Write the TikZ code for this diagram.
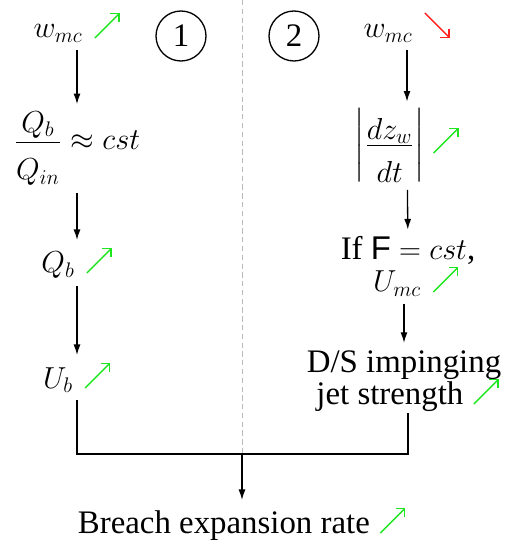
\documentclass[tikz,border=0pt]{standalone}
\usepackage{amsmath}
\usepackage{fontspec}
\setmainfont{Liberation Serif}
\newfontfamily\sansF{Liberation Sans}
\usetikzlibrary{arrows.meta}
\definecolor{Cup}{HTML}{1EE61E}
\definecolor{Cdn}{HTML}{FF2020}
% numerator set a little lower, denominator a little deeper
\newcommand{\lownum}[1]{\raisebox{-0.2em}[\height][0pt]{$#1$}}
\newcommand{\deepden}[1]{\rule{0pt}{1.0em}#1}
\newcommand{\incr}{\tikz[baseline=0pt]\draw[Cup, line width=0.8pt, -{Straight Barb[length=3.5pt,width=7pt]}] (0,0) -- (0.76em,0.76em);}
\newcommand{\decr}{\tikz[baseline=0pt]\draw[Cdn, line width=0.8pt, -{Straight Barb[length=3.5pt,width=7pt]}] (0,0.76em) -- (0.76em,0);}

\begin{document}
\begin{tikzpicture}[x=0.02cm, y=-0.02cm,
		font=\fontsize{18.7}{19}\selectfont,
		txt/.style={anchor=base, inner sep=1pt},
		link/.style={line width=0.75pt, -{Latex[length=6pt,width=4pt]}, shorten <=3pt, shorten >=3pt},
		num/.style={circle, draw, line width=0.75pt, minimum size=1cm, inner sep=0pt}]
	
	\useasboundingbox (0,0) rectangle (514,543);
	
	%% junction of the two branches
	\coordinate (jn) at (242,454);
	
	%% separator between the two cases
	\draw[gray!55, line width=0.5pt, dash pattern=on 3pt off 2pt] (242,0) -- (jn);
	
	%% case numbers
	\node[num] (n1) at (181,36) {1};
	\node[num] (n2) at (294,36) {2};
	
	%% ── case 1 ──────────────────────────────────────────
	\node[txt] (w1) at (77,38)  {$w_{mc}$\hspace{0.35em}\incr};
	\node[txt] (r1) at (77,150) {$\dfrac{\lownum{Q_b}}{\deepden{Q_{in}}}\approx cst$};
	\node[txt] (qb) at (77,273) {$Q_b$\hspace{0.35em}\incr};
	\node[txt] (ub) at (77,388) {$U_b$\hspace{0.35em}\incr};
	
	%% ── case 2 ──────────────────────────────────────────
	\node[txt] (w2) at (407,38)  {$w_{mc}$\hspace{0.35em}\decr};
	\node[txt] (dz) at (407,153) {$\left|\dfrac{\lownum{dz_w}}{\deepden{dt}}\right|$\hspace{0.25em}\incr};
	\node[txt] (if) at (408,260) {If {\sansF F} $= cst$,};
	\node[txt] (um) at (416,292) {$U_{mc}$\hspace{0.35em}\incr};
	\node[txt] (ds) at (404,372) {D/S impinging};
	\node[txt] (jt) at (408,404) {jet strength\hspace{0.3em}\incr};
	
	%% result
	\node[txt] (br) at (242,533) {Breach expansion rate\hspace{0.3em}\incr};
	
	%% ── connectors ──────────────────────────────────────
	\draw[link] (w1) -- (r1);
	\draw[link] (r1) -- (qb);
	\draw[link] (qb) -- (ub);
	\draw[link] (w2) -- (dz);
	\draw[link] (dz) -- (if);
	\draw[link] (um.south -| ds.north) -- (ds);
	\draw[line width=0.75pt, shorten <=3pt] (ub.south) |- (jn) -| (jt.south);
	\draw[link, shorten <=0pt] (jn) -- (br);
	
\end{tikzpicture}
\end{document}
